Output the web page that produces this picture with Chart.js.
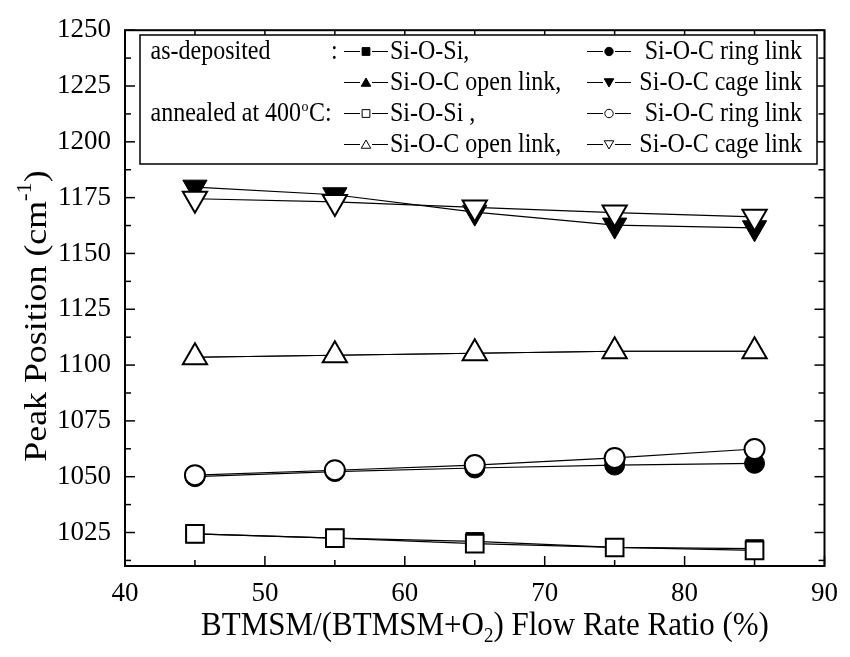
<!DOCTYPE html>
<html><head><meta charset="utf-8">
<script src="https://cdn.jsdelivr.net/npm/chart.js@4/dist/chart.umd.min.js"></script>
<style>html,body{margin:0;padding:0;background:#fff}#wrap{width:850px;height:657px}</style>
</head><body><div id="wrap"><canvas id="c" width="850" height="657"></canvas></div>
<script>
// ---- data ----
const ratio = [45, 55, 65, 75, 85];
const asDepSiOSi = [1024.4, 1022.5, 1021.0, 1018.3, 1017.8];
const asDepRing  = [1050.0, 1052.3, 1053.9, 1055.2, 1056.0];
const asDepOpen  = [1103.5, 1104.4, 1105.3, 1106.2, 1106.2];
const asDepCage  = [1179.7, 1176.3, 1168.5, 1162.7, 1161.5];
const annSiOSi   = [1024.4, 1022.5, 1020.0, 1018.3, 1017.0];
const annRing    = [1050.7, 1052.9, 1055.2, 1058.4, 1062.4];
const annOpen    = [1103.5, 1104.4, 1105.3, 1106.2, 1106.2];
const annCage    = [1174.5, 1173.1, 1170.6, 1168.3, 1166.4];
const xTicks = [40, 50, 60, 70, 80, 90];
const xMinorTicks = [45, 55, 65, 75, 85];
const yTicks = [1025, 1050, 1075, 1100, 1125, 1150, 1175, 1200, 1225, 1250];
const yMinorTicks = [1012.5, 1037.5, 1062.5, 1087.5, 1112.5, 1137.5, 1162.5, 1187.5, 1212.5, 1237.5];
const xTitleA = 'BTMSM/(BTMSM+O', xTitleSub = '2', xTitleB = ') Flow Rate Ratio (%)';
const yTitleA = 'Peak Position (cm', yTitleSup = '-1', yTitleB = ')';
const legendRows = [
  {lead: 'as-deposited', colon: ':', a: 'Si-O-Si,', b: 'Si-O-C ring link', ma: 'rect', mb: 'circle', ra: 0, rb: 0, filled: true},
  {lead: '', colon: '', a: 'Si-O-C open link,', b: 'Si-O-C cage link', ma: 'triangle', mb: 'triangle', ra: 0, rb: 180, filled: true},
  {lead: 'annealed at 400', colon: '', a: 'Si-O-Si ,', b: 'Si-O-C ring link', ma: 'rect', mb: 'circle', ra: 0, rb: 0, filled: false, deg: true},
  {lead: '', colon: '', a: 'Si-O-C open link,', b: 'Si-O-C cage link', ma: 'triangle', mb: 'triangle', ra: 0, rb: 180, filled: false}
];

const FONT = '"Liberation Serif", "Times New Roman", serif';
const pts = ys => ratio.map((x, i) => ({x, y: ys[i]}));
function ds(label, ys, style, rot, radius, filled) {
  return {
    label, data: pts(ys), showLine: true,
    borderColor: '#000', borderWidth: 1.2,
    pointStyle: style, rotation: rot, pointRadius: radius,
    pointBackgroundColor: filled ? '#000' : '#fff',
    pointBorderColor: '#000', pointBorderWidth: filled ? 1 : 2,
    order: filled ? 2 : 1
  };
}

function txt(ctx, s, x, y, size, align, sy) {
  ctx.save();
  ctx.font = size + 'px ' + FONT;
  ctx.textAlign = align || 'left';
  ctx.textBaseline = 'alphabetic';
  ctx.translate(x, y);
  ctx.scale(1, sy || 1.1);
  ctx.fillText(s, 0, 0);
  ctx.restore();
  ctx.font = size + 'px ' + FONT;
  return ctx.measureText(s).width;
}

const framePlugin = {
  id: 'frame',
  afterDraw(chart) {
    const {ctx, chartArea: {left, right, top, bottom}, scales: {x, y}} = chart;
    ctx.save();
    ctx.strokeStyle = '#000'; ctx.fillStyle = '#000';
    ctx.lineWidth = 2;
    ctx.strokeRect(left, top, right - left, bottom - top);
    ctx.lineWidth = 1.5;
    const line = (a, b, c, d) => { ctx.beginPath(); ctx.moveTo(a, b); ctx.lineTo(c, d); ctx.stroke(); };
    xTicks.forEach(v => { const p = x.getPixelForValue(v); line(p, bottom, p, bottom - 10); line(p, top, p, top + 10); });
    xMinorTicks.forEach(v => { const p = x.getPixelForValue(v); line(p, bottom, p, bottom - 6); line(p, top, p, top + 6); });
    yTicks.forEach(v => { const p = y.getPixelForValue(v); line(left, p, left + 10, p); line(right, p, right - 10, p); });
    yMinorTicks.forEach(v => { const p = y.getPixelForValue(v); line(left, p, left + 6, p); line(right, p, right - 6, p); });

    // legend box
    ctx.fillStyle = '#fff';
    ctx.fillRect(140, 35, 677, 129);
    ctx.lineWidth = 1.5; ctx.strokeStyle = '#000';
    ctx.strokeRect(140, 35, 677, 129);
    ctx.fillStyle = '#000';
    legendRows.forEach((r, i) => {
      const base = 59 + 31 * i;
      const my = base - 7.5;
      if (r.lead) {
        let w = txt(ctx, r.lead, 150.5, base, 24, 'left');
        if (r.deg) {
          const w2 = txt(ctx, 'o', 150.5 + w + 0.5, base - 10, 14, 'left');
          txt(ctx, 'C:', 150.5 + w + w2 + 1, base, 24, 'left');
        }
      }
      if (r.colon) txt(ctx, r.colon, 331, base, 24, 'left');
      const sample = (cx, style, rot) => {
        ctx.lineWidth = 1;
        line(cx - 22, my, cx - 6, my);
        line(cx + 6, my, cx + 22, my);
        ctx.fillStyle = r.filled ? '#000' : '#fff';
        ctx.strokeStyle = '#000';
        const rad = style === 'rect' ? 5.5 : (style === 'circle' ? 4.2 : 5.5);
        Chart.helpers.drawPoint(ctx, {pointStyle: style, rotation: rot, radius: rad, borderWidth: 1}, cx, my + (style === 'triangle' ? (rot ? -1 : 1) : 0));
        ctx.fillStyle = '#000';
      };
      sample(366, r.ma, r.ra);
      txt(ctx, r.a, 390, base, 24, 'left');
      sample(609, r.mb, r.rb);
      txt(ctx, r.b, 802, base, 24, 'right');
    });

    // x title
    ctx.font = '31px ' + FONT;
    const wA = ctx.measureText(xTitleA).width, wB = ctx.measureText(xTitleB).width;
    ctx.font = '19px ' + FONT;
    const wS = ctx.measureText(xTitleSub).width;
    const total = wA + wS + wB;
    let sx = 485 - total / 2;
    txt(ctx, xTitleA, sx, 635, 31, 'left', 1.12);
    txt(ctx, xTitleSub, sx + wA, 642, 19, 'left', 1.12);
    txt(ctx, xTitleB, sx + wA + wS, 635, 31, 'left', 1.12);

    // y title (rotated)
    ctx.save();
    ctx.translate(46, 316);
    ctx.rotate(-Math.PI / 2);
    ctx.scale(1.12, 1);
    ctx.font = '32px ' + FONT;
    const yA = ctx.measureText(yTitleA).width, yB = ctx.measureText(yTitleB).width;
    ctx.font = '20px ' + FONT;
    const yS = ctx.measureText(yTitleSup).width;
    const ytot = yA + yS + yB;
    let st = -ytot / 2;
    ctx.textBaseline = 'alphabetic'; ctx.textAlign = 'left';
    ctx.font = '32px ' + FONT; ctx.fillText(yTitleA, st, 0);
    ctx.font = '20px ' + FONT; ctx.fillText(yTitleSup, st + yA, -15);
    ctx.font = '32px ' + FONT; ctx.fillText(yTitleB, st + yA + yS, 0);
    ctx.restore();
    ctx.restore();
  }
};

new Chart(document.getElementById('c'), {
  type: 'scatter',
  data: {
    datasets: [
      ds('as-deposited Si-O-Si', asDepSiOSi, 'rect', 0, 12.5, true),
      ds('as-deposited Si-O-C ring link', asDepRing, 'circle', 0, 10, true),
      ds('as-deposited Si-O-C open link', asDepOpen, 'triangle', 0, 14, true),
      ds('as-deposited Si-O-C cage link', asDepCage, 'triangle', 180, 14, true),
      ds('annealed Si-O-Si', annSiOSi, 'rect', 0, 12.5, false),
      ds('annealed Si-O-C ring link', annRing, 'circle', 0, 10, false),
      ds('annealed Si-O-C open link', annOpen, 'triangle', 0, 14, false),
      ds('annealed Si-O-C cage link', annCage, 'triangle', 180, 14, false)
    ]
  },
  options: {
    responsive: false, animation: false, events: [], devicePixelRatio: 1,
    layout: {padding: {left: 0, right: 22, top: 27, bottom: 0}},
    plugins: {legend: {display: false}, tooltip: {enabled: false}},
    scales: {
      x: {
        type: 'linear', min: 40, max: 90,
        afterBuildTicks: s => { s.ticks = xTicks.map(v => ({value: v})); },
        afterFit: s => { s.height = 91; },
        grid: {display: false, drawTicks: false}, border: {display: false},
        ticks: {color: '#000', font: {family: FONT, size: 27}, padding: 12, maxRotation: 0, callback: v => String(v)}
      },
      y: {
        type: 'linear', min: 1010, max: 1250,
        afterBuildTicks: s => { s.ticks = yTicks.map(v => ({value: v})); },
        afterFit: s => { s.width = 125; },
        grid: {display: false, drawTicks: false}, border: {display: false},
        ticks: {color: '#000', font: {family: FONT, size: 27}, padding: 14, callback: v => String(v)}
      }
    }
  },
  plugins: [framePlugin]
});
</script></body></html>
